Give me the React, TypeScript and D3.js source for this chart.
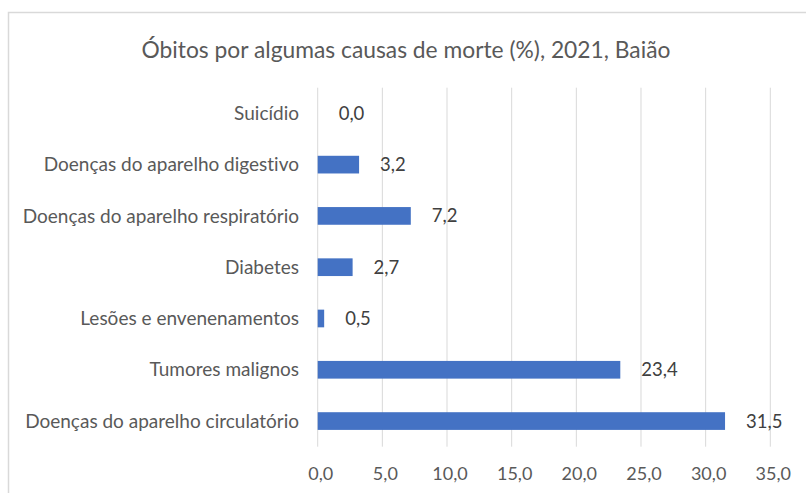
import React from "react";
import * as d3 from "d3";

const categories = [
  "Suicídio",
  "Doenças do aparelho digestivo",
  "Doenças do aparelho respiratório",
  "Diabetes",
  "Lesões e envenenamentos",
  "Tumores malignos",
  "Doenças do aparelho circulatório",
];
const values = [0.0, 3.2, 7.2, 2.7, 0.5, 23.4, 31.5];
const xTicks = [0, 5, 10, 15, 20, 25, 30, 35];
const title = "Óbitos por algumas causas de morte (%), 2021, Baião";

const W = 806;
const H = 493;
const FONT = "Lato, 'Open Sans', sans-serif";

const fmt = (v: number) => v.toFixed(1).replace(".", ",");

export default function App() {
  const x = d3.scaleLinear().domain([0, 35]).range([317.7, 770.3]);
  const y = d3
    .scaleBand<string>()
    .domain(categories)
    .range([87.7, 446.7])
    .paddingInner(0.655)
    .paddingOuter(0.3275);

  return (
    <svg
      width={W}
      height={H}
      style={{
        position: "absolute",
        left: 0,
        top: 0,
        background: "#fff",
        fontVariantLigatures: "none",
      }}
    >
      <rect x={0} y={0} width={W} height={H} fill="#fff" />
      <rect
        x={8.5}
        y={12.5}
        width={W + 10}
        height={H + 10}
        fill="none"
        stroke="#d9d9d9"
        strokeWidth={1.5}
      />
      <text
        x={406}
        y={58}
        textAnchor="middle"
        fontFamily={FONT}
        fontSize={22.8}
        fill="#595959"
      >
        {title}
      </text>
      {xTicks.map((t) => (
        <line
          key={"g" + t}
          x1={x(t)}
          x2={x(t)}
          y1={87.7}
          y2={446.7}
          stroke="#d9d9d9"
          strokeWidth={1}
        />
      ))}
      {xTicks.map((t) => (
        <text
          key={"t" + t}
          x={x(t) + 3}
          y={480}
          textAnchor="middle"
          fontFamily={FONT}
          fontSize={18}
          fill="#595959"
        >
          {fmt(t)}
        </text>
      ))}
      {categories.map((c, i) => {
        const by = y(c)!;
        const bh = y.bandwidth();
        const cy = by + bh / 2;
        return (
          <g key={c}>
            <rect
              x={x(0)}
              y={by}
              width={Math.max(0, x(values[i]) - x(0))}
              height={bh}
              fill="#4472C4"
            />
            <text
              x={299}
              y={cy}
              dy="0.35em"
              textAnchor="end"
              fontFamily={FONT}
              fontSize={19}
              fill="#595959"
            >
              {c}
            </text>
            <text
              x={x(values[i]) + 21}
              y={cy}
              dy="0.35em"
              textAnchor="start"
              fontFamily={FONT}
              fontSize={18.5}
              fill="#404040"
            >
              {fmt(values[i])}
            </text>
          </g>
        );
      })}
    </svg>
  );
}
